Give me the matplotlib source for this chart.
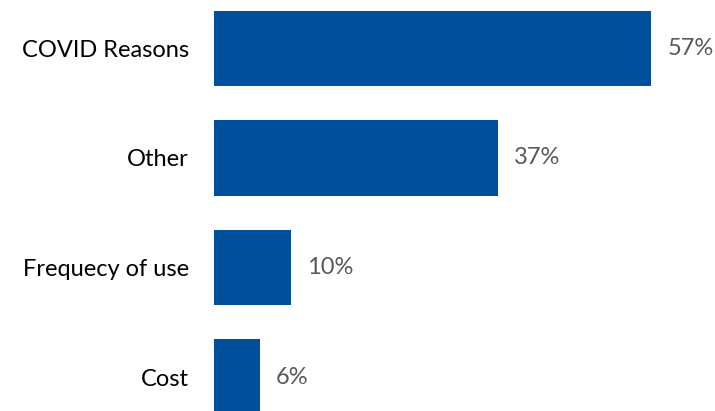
import matplotlib.pyplot as plt

categories = [ 'COVID Reasons', 'Other', 'Frequecy of use', 'Cost' ]
values = [ 57, 37, 10, 6 ]
value_labels = [ '57%', '37%', '10%', '6%' ]

bar_color = '#01509C'
label_color = '#595959'

plt.rcParams[ 'font.family' ] = [ 'Lato', 'DejaVu Sans' ]

fig = plt.figure( figsize = ( 7.15, 4.11 ), dpi = 100 )
ax = fig.add_axes( [ 214 / 715, 0, 501 / 715, 1 ] )

positions = list( range( len( categories ) ) )
ax.barh( positions, values, height = 0.69, color = bar_color )

for pos, val, text in zip( positions, values, value_labels ):
    ax.text( val + 2.1, pos, text, va = 'center', ha = 'left', fontsize = 17, color = label_color )

ax.set_xlim( 0, 501 / 7.67 )
ax.set_ylim( 3.31, -0.441 )
ax.set_yticks( positions )
ax.set_yticklabels( categories, fontsize = 17, color = 'black' )
ax.tick_params( axis = 'y', length = 0, pad = 18 )
ax.set_xticks( [] )
for side in ax.spines.values():
    side.set_visible( False )

fig.savefig( 'out.png', dpi = 100 )
